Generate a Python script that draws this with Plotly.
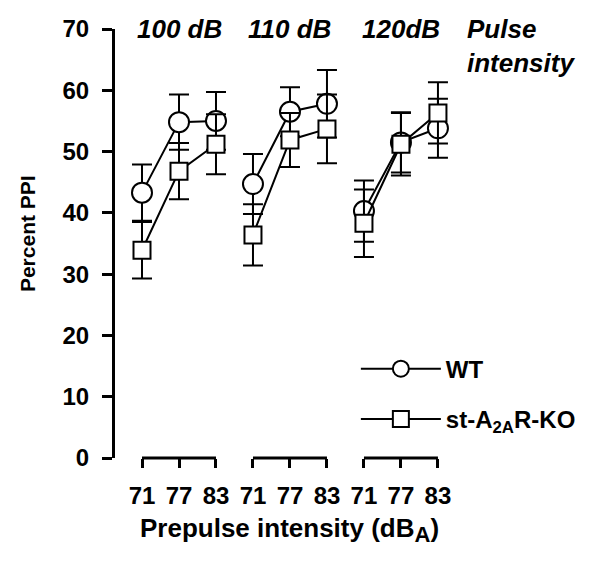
import plotly.graph_objects as go

pulse_labels = ["100 dB", "110 dB", "120dB"]
prepulse_labels = ["71", "77", "83"]

wt_mean = [[43.3, 54.8, 55.0], [44.7, 56.5, 57.8], [40.3, 51.5, 53.8]]
wt_sem = [[4.6, 4.5, 4.7], [4.9, 4.0, 5.5], [5.0, 4.9, 4.8]]
ko_mean = [[33.9, 46.8, 51.2], [36.4, 51.9, 53.7], [38.3, 51.2, 56.3]]
ko_sem = [[4.6, 4.6, 4.9], [5.0, 4.4, 5.6], [5.5, 5.1, 5.0]]

FONT = "Liberation Sans, Arial, sans-serif"
n_pp = len(prepulse_labels)

def flat(groups, gap=True):
    out = []
    for g, vals in enumerate(groups):
        out += list(vals)
        if gap and g < len(groups) - 1:
            out.append(None)
    return out

xpos_groups = [[g * n_pp + j for j in range(n_pp)] for g in range(len(pulse_labels))]
xs = flat(xpos_groups)

fig = go.Figure()
for name, mean, sem, sym, size in [
    ("<b>WT</b>", wt_mean, wt_sem, "circle", 20),
    ("<b>st-A<sub>2A</sub>R-KO</b>", ko_mean, ko_sem, "square", 17),
]:
    fig.add_trace(go.Scatter(
        x=xs, y=flat(mean), mode="lines+markers", name=name, legendgroup=name,
        line=dict(color="black", width=2),
        marker=dict(symbol=sym, size=size, color="white", line=dict(color="black", width=2)),
        error_y=dict(type="data", array=flat(sem), visible=True, color="black", thickness=2, width=10),
        cliponaxis=False, connectgaps=False,
    ))

all_x = [x for grp in xpos_groups for x in grp]
fig.update_xaxes(
    range=[-0.73, 11.84], tickvals=all_x, ticktext=prepulse_labels * len(pulse_labels),
    ticks="outside", ticklen=9, tickwidth=3, tickcolor="black", showline=False,
    showgrid=False, zeroline=False, ticklabelstandoff=7, automargin=False,
    tickfont=dict(family=FONT, size=24, color="black", weight="bold"),
)
fig.update_yaxes(
    range=[0, 70], tickvals=list(range(0, 71, 10)), ticks="outside", ticklen=10,
    tickwidth=3, tickcolor="black", showline=True, linewidth=3, linecolor="black",
    showgrid=False, zeroline=False, ticklabelstandoff=8, automargin=False,
    tickfont=dict(family=FONT, size=24, color="black", weight="bold"),
)

# group brackets along the x-axis
for grp in xpos_groups:
    fig.add_shape(type="line", xref="x", yref="paper", x0=grp[0], x1=grp[-1], y0=0, y1=0,
                  line=dict(color="black", width=3))

for g, lab in enumerate(pulse_labels):
    fig.add_annotation(x=xpos_groups[g][1], y=70, xref="x", yref="y", text=f"<b><i>{lab}</i></b>",
                       showarrow=False, yanchor="middle",
                       font=dict(family=FONT, size=26, color="black"))
fig.add_annotation(x=0.753, y=70, xref="paper", yref="y", text="<b><i>Pulse<br>intensity</i></b>",
                   showarrow=False, xanchor="left", yanchor="top", yshift=17, align="left",
                   font=dict(family=FONT, size=26, color="black"))
fig.add_annotation(x=xpos_groups[1][1], y=0, xref="x", yref="paper",
                   text="<b>Prepulse intensity (dB<sub><span style='font-size:22px'>A</span></sub>)</b>",
                   showarrow=False, yanchor="middle", yshift=-72,
                   font=dict(family=FONT, size=26, color="black"))
fig.add_annotation(x=0, y=0.522, xref="paper", yref="paper", text="<b>Percent PPI</b>",
                   showarrow=False, textangle=-90, xanchor="center", yanchor="middle", xshift=-88,
                   font=dict(family=FONT, size=21, color="black"))

# page body adds an 8px offset, so margins are shifted to compensate
fig.update_layout(
    width=600, height=565, margin=dict(l=107, r=28, t=21, b=115, autoexpand=False),
    paper_bgcolor="white", plot_bgcolor="white", showlegend=True,
    legend=dict(x=0.518, y=0.149, xanchor="left", yanchor="middle", traceorder="grouped",
                tracegroupgap=16, bgcolor="rgba(0,0,0,0)", itemwidth=80,
                font=dict(family=FONT, size=24, color="black")),
)

fig.write_html("out.html")
